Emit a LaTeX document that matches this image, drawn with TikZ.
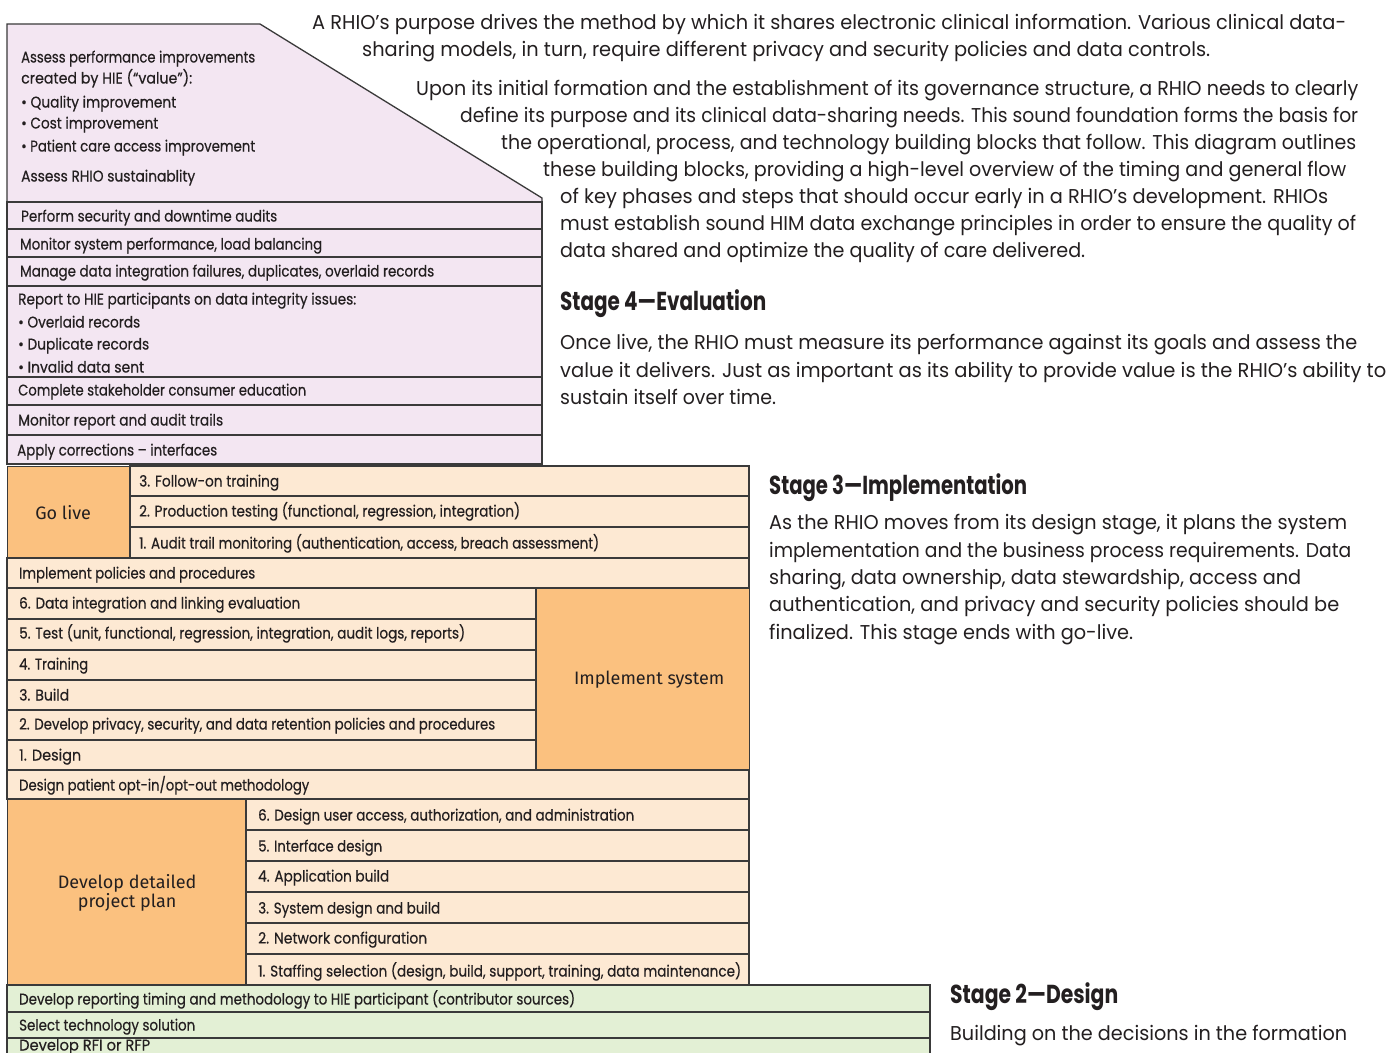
\documentclass[tikz,border=0pt]{standalone}
\usepackage{fontspec}
\usepackage{graphicx}
\setmainfont{Poppins}
\newfontfamily\labelfont{Fira Sans}
\newfontfamily\boxfont{Poppins}[FakeBold=0.5]
\definecolor{purp}{HTML}{F3E6F2}
\definecolor{peach}{HTML}{FDE9D3}
\definecolor{orng}{HTML}{FBC17F}
\definecolor{grn}{HTML}{E3F0D5}
\definecolor{edge}{HTML}{3A3A3A}
\definecolor{txt}{HTML}{231F20}
\newcommand\fitw[2]{\resizebox{#1pt}{\height}{#2}}
\tikzset{
  para/.style={inner sep=0pt, anchor=west, font=\fontsize{20}{24}\selectfont, text=txt, text height=14pt, text depth=0pt},
  bt/.style={inner sep=0pt, anchor=west, font=\boxfont\fontsize{15.5}{17}\selectfont, text=txt, text height=11pt, text depth=0pt},
  head/.style={inner sep=0pt, anchor=west, font=\fontsize{26}{30}\selectfont\bfseries, text=txt, text height=18pt, text depth=0pt},
  lbl/.style={font=\labelfont\fontsize{18}{17}\selectfont, text=txt, align=center},
  rowP/.style={fill=purp, draw=edge, line width=1.3pt},
  rowO/.style={fill=peach, draw=edge, line width=1.3pt},
  rowD/.style={fill=orng, draw=edge, line width=1.3pt},
  rowG/.style={fill=grn, draw=edge, line width=1.3pt},
}
\begin{document}
\begin{tikzpicture}[x=1pt,y=-1pt]
\clip (0,0) rectangle (1388,1052);
\fill[white] (0,0) rectangle (1388,1052);

% ---------- Stage 4 (purple) ----------
\draw[rowP] (7,24) -- (260,24) -- (542,198) -- (542,202) -- (7,202) -- cycle;
\draw[rowP] (7,202) rectangle (542,229);
\draw[rowP] (7,229) rectangle (542,257);
\draw[rowP] (7,257) rectangle (542,286);
\draw[rowP] (7,286) rectangle (542,377);
\draw[rowP] (7,377) rectangle (542,405);
\draw[rowP] (7,405) rectangle (542,435);
\draw[rowP] (7,435) rectangle (542,464);

\node[bt] (a1) at (21,57) {\fitw{234}{Assess performance improvements}};
\node[bt] (a2) at (21,78) {\fitw{171}{created by HIE (“value”):}};
\node[bt] (a3) at (21,102) {\fitw{155}{• Quality improvement}};
\node[bt] (a4) at (21,123) {\fitw{137}{• Cost improvement}};
\node[bt] (a5) at (21,146) {\fitw{234}{• Patient care access improvement}};
\node[bt] (a6) at (21,176) {\fitw{174}{Assess RHIO sustainablity}};
\node[bt] (b1) at (21,216) {\fitw{256}{Perform security and downtime audits}};
\node[bt] (b2) at (20,244) {\fitw{302}{Monitor system performance, load balancing}};
\node[bt] (b3) at (20,271) {\fitw{414}{Manage data integration failures, duplicates, overlaid records}};
\node[bt] (b4) at (18,299) {\fitw{338}{Report to HIE participants on data integrity issues:}};
\node[bt] (b5) at (18,322) {\fitw{122}{• Overlaid records}};
\node[bt] (b6) at (18,344) {\fitw{131}{• Duplicate records}};
\node[bt] (b7) at (18,367) {\fitw{126}{• Invalid data sent}};
\node[bt] (b8) at (18,390) {\fitw{288}{Complete stakeholder consumer education}};
\node[bt] (b9) at (18,420) {\fitw{205}{Monitor report and audit trails}};
\node[bt] (b10) at (17,450) {\fitw{200}{Apply corrections – interfaces}};

% ---------- Stage 3 (orange) ----------
\node[rowD, minimum width=123pt, minimum height=92pt, inner sep=0pt, anchor=north west, lbl] (golive) at (7,466) {Go live\hspace*{12pt}};
\draw[rowO] (130,466) rectangle (749,496);
\draw[rowO] (130,496) rectangle (749,527);
\draw[rowO] (130,527) rectangle (749,558);
\draw[rowO] (7,558) rectangle (749,588);
\draw[rowO] (7,588) rectangle (536,619);
\draw[rowO] (7,619) rectangle (536,650);
\draw[rowO] (7,650) rectangle (536,680);
\draw[rowO] (7,680) rectangle (536,710);
\draw[rowO] (7,710) rectangle (536,740);
\draw[rowO] (7,740) rectangle (536,770);
\node[rowD, minimum width=213pt, minimum height=182pt, inner sep=0pt, anchor=north west, lbl] (implsys) at (536,588) {\hspace*{12pt}Implement system};
\draw[rowO] (7,770) rectangle (749,799);
\node[rowD, minimum width=239pt, minimum height=186pt, inner sep=0pt, anchor=north west, lbl] (devplan) at (7,799) {Develop detailed\\project plan};
\draw[rowO] (246,799) rectangle (749,830);
\draw[rowO] (246,830) rectangle (749,861);
\draw[rowO] (246,861) rectangle (749,892);
\draw[rowO] (246,892) rectangle (749,923);
\draw[rowO] (246,923) rectangle (749,954);
\draw[rowO] (246,954) rectangle (749,985);

\node[bt] (c1) at (139,481) {\fitw{140}{3. Follow-on training}};
\node[bt] (c2) at (139,511) {\fitw{381}{2. Production testing (functional, regression, integration)}};
\node[bt] (c3) at (139,543) {\fitw{460}{1. Audit trail monitoring (authentication, access, breach assessment)}};
\node[bt] (c4) at (19,573) {\fitw{236}{Implement policies and procedures}};
\node[bt] (d6) at (19,603) {\fitw{281}{6. Data integration and linking evaluation}};
\node[bt] (d5) at (19,633) {\fitw{446}{5. Test (unit, functional, regression, integration, audit logs, reports)}};
\node[bt] (d4) at (19,664) {\fitw{69}{4. Training}};
\node[bt] (d3) at (19,695) {\fitw{50}{3. Build}};
\node[bt] (d2) at (19,724) {\fitw{476}{2. Develop privacy, security, and data retention policies and procedures}};
\node[bt] (d1) at (19,755) {\fitw{62}{1. Design}};
\node[bt] (e0) at (19,785) {\fitw{290}{Design patient opt-in/opt-out methodology}};
\node[bt] (f6) at (258,815) {\fitw{376}{6. Design user access, authorization, and administration}};
\node[bt] (f5) at (258,846) {\fitw{124}{5. Interface design}};
\node[bt] (f4) at (258,876) {\fitw{131}{4. Application build}};
\node[bt] (f3) at (258,908) {\fitw{182}{3. System design and build}};
\node[bt] (f2) at (258,938) {\fitw{169}{2. Network configuration}};
\node[bt] (f1) at (258,971) {\fitw{483}{1. Staffing selection (design, build, support, training, data maintenance)}};

% ---------- Stage 2 (green) ----------
\draw[rowG] (7,985) rectangle (930,1012);
\draw[rowG] (7,1012) rectangle (930,1038);
\draw[rowG] (7,1038) rectangle (930,1070);
\node[bt] (g1) at (19,999) {\fitw{556}{Develop reporting timing and methodology to HIE participant (contributor sources)}};
\node[bt] (g2) at (19,1025) {\fitw{176}{Select technology solution}};
\node[bt] (g3) at (19,1045) {\fitw{131}{Develop RFI or RFP}};

% ---------- Intro paragraphs ----------
\node[para] (p1a) at (312,22) {\fitw{1034}{A RHIO’s purpose drives the method by which it shares electronic clinical information. Various clinical data-}};
\node[para] (p1b) at (362,49) {\fitw{848}{sharing models, in turn, require different privacy and security policies and data controls.}};
\node[para] (p2a) at (416,88) {\fitw{942}{Upon its initial formation and the establishment of its governance structure, a RHIO needs to clearly}};
\node[para] (p2b) at (460,115) {\fitw{898}{define its purpose and its clinical data-sharing needs. This sound foundation forms the basis for}};
\node[para] (p2c) at (501,142) {\fitw{855}{the operational, process, and technology building blocks that follow. This diagram outlines}};
\node[para] (p2d) at (543,169) {\fitw{803}{these building blocks, providing a high-level overview of the timing and general flow}};
\node[para] (p2e) at (560,196) {\fitw{768}{of key phases and steps that should occur early in a RHIO’s development. RHIOs}};
\node[para] (p2f) at (560,223) {\fitw{796}{must establish sound HIM data exchange principles in order to ensure the quality of}};
\node[para] (p2g) at (560,250) {\fitw{525}{data shared and optimize the quality of care delivered.}};

% ---------- Stage 4 text ----------
\node[head] (h4) at (560,301) {\fitw{206}{Stage 4—Evaluation}};
\node[para] (s4a) at (560,342) {\fitw{797}{Once live, the RHIO must measure its performance against its goals and assess the}};
\node[para] (s4b) at (560,370) {\fitw{826}{value it delivers. Just as important as its ability to provide value is the RHIO’s ability to}};
\node[para] (s4c) at (560,397) {\fitw{216}{sustain itself over time.}};

% ---------- Stage 3 text ----------
\node[head] (h3) at (769,485) {\fitw{258}{Stage 3—Implementation}};
\node[para] (s3a) at (769,522) {\fitw{578}{As the RHIO moves from its design stage, it plans the system}};
\node[para] (s3b) at (769,550) {\fitw{582}{implementation and the business process requirements. Data}};
\node[para] (s3c) at (769,577) {\fitw{532}{sharing, data ownership, data stewardship, access and}};
\node[para] (s3d) at (769,604) {\fitw{570}{authentication, and privacy and security policies should be}};
\node[para] (s3e) at (769,632) {\fitw{364}{finalized. This stage ends with go-live.}};

% ---------- Stage 2 text ----------
\node[head] (h2) at (950,994) {\fitw{168}{Stage 2—Design}};
\node[para] (s2a) at (950,1033) {\fitw{397}{Building on the decisions in the formation}};
\end{tikzpicture}
\end{document}
